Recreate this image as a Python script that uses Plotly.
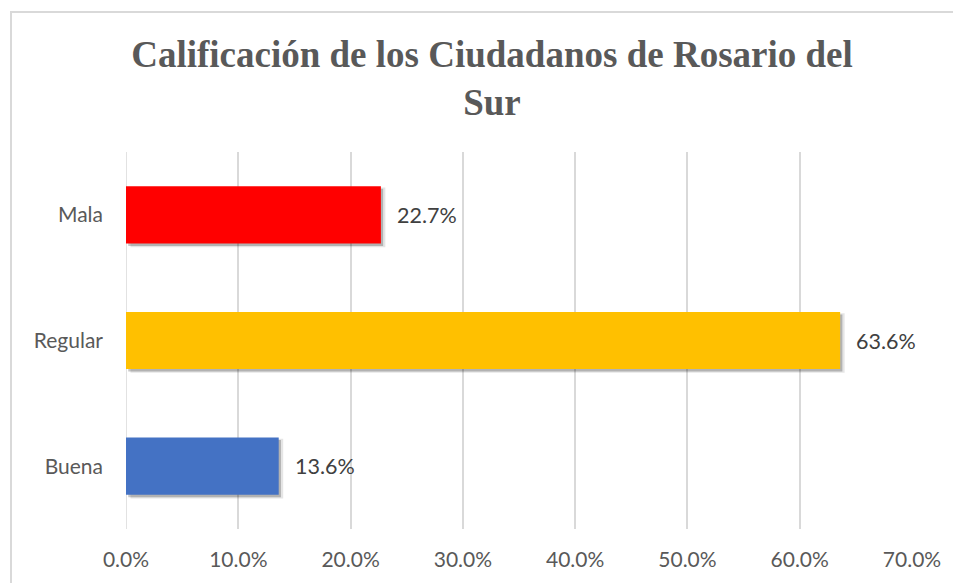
import plotly.graph_objects as go

categories = ["Buena", "Regular", "Mala"]
values = [0.136, 0.636, 0.227]
bar_colors = ["#4472C4", "#FFC000", "#FF0000"]
x_ticks = [0.0, 0.1, 0.2, 0.3, 0.4, 0.5, 0.6, 0.7]
title_text = "Calificación de los Ciudadanos de Rosario del<br>Sur"

W, H = 961, 583
ML, MR, MT, MB = 118, 57, 144, 62
BW = 0.455

fig = go.Figure()
# soft shadow layers
fig.add_trace(go.Bar(
    y=categories, x=values, orientation="h", base=0.004,
    width=BW + 0.02, offset=-BW / 2 - 0.03,
    marker=dict(color="rgba(0,0,0,0.10)", line=dict(width=0)),
    hoverinfo="skip", showlegend=False))
fig.add_trace(go.Bar(
    y=categories, x=values, orientation="h", base=0.002,
    width=BW, offset=-BW / 2 - 0.02,
    marker=dict(color="rgba(0,0,0,0.22)", line=dict(width=0)),
    hoverinfo="skip", showlegend=False))
fig.add_trace(go.Bar(
    y=categories, x=values, orientation="h",
    width=BW, offset=-BW / 2,
    marker=dict(color=bar_colors, line=dict(width=0)),
    showlegend=False))

for c, v in zip(categories, values):
    fig.add_annotation(x=v, y=c, xref="x", yref="y", text=f"{v:.1%}",
                       showarrow=False, xanchor="left", xshift=14,
                       font=dict(family="Lato", size=21.5, color="#404040"))

pw = W - ML - MR
ph = H - MT - MB
fig.add_shape(type="rect", xref="paper", yref="paper",
              x0=(3 - ML) / pw, x1=(W + 20 - ML) / pw,
              y0=-(MB + 30) / ph, y1=1 + (MT - 4) / ph,
              line=dict(color="#D9D9D9", width=2), layer="below")

fig.update_layout(
    width=W, height=H,
    margin=dict(l=ML, r=MR, t=MT, b=MB),
    paper_bgcolor="white", plot_bgcolor="white",
    barmode="overlay",
    title=dict(text=title_text, x=484 / W, xanchor="center", xref="container",
               y=1 - 59 / H, yanchor="top", yref="container",
               font=dict(family="Liberation Serif", size=37, color="#595959",
                         weight="bold")),
    xaxis=dict(range=[0, 0.7], tickvals=x_ticks, tickformat=".1%",
               showgrid=True, gridcolor="#D9D9D9", gridwidth=1.5,
               zeroline=False, showline=False, ticks="",
               ticklabelstandoff=16,
               tickfont=dict(family="Lato", size=21, color="#595959")),
    yaxis=dict(categoryorder="array", categoryarray=categories,
               showgrid=False, zeroline=False, showline=False, ticks="",
               ticklabelstandoff=22,
               tickfont=dict(family="Lato", size=21, color="#595959")),
)
fig.add_shape(type="line", xref="x", yref="paper", x0=0, x1=0, y0=0, y1=1,
              line=dict(color="#D9D9D9", width=1.5), layer="below")

fig.write_html("out.html")
